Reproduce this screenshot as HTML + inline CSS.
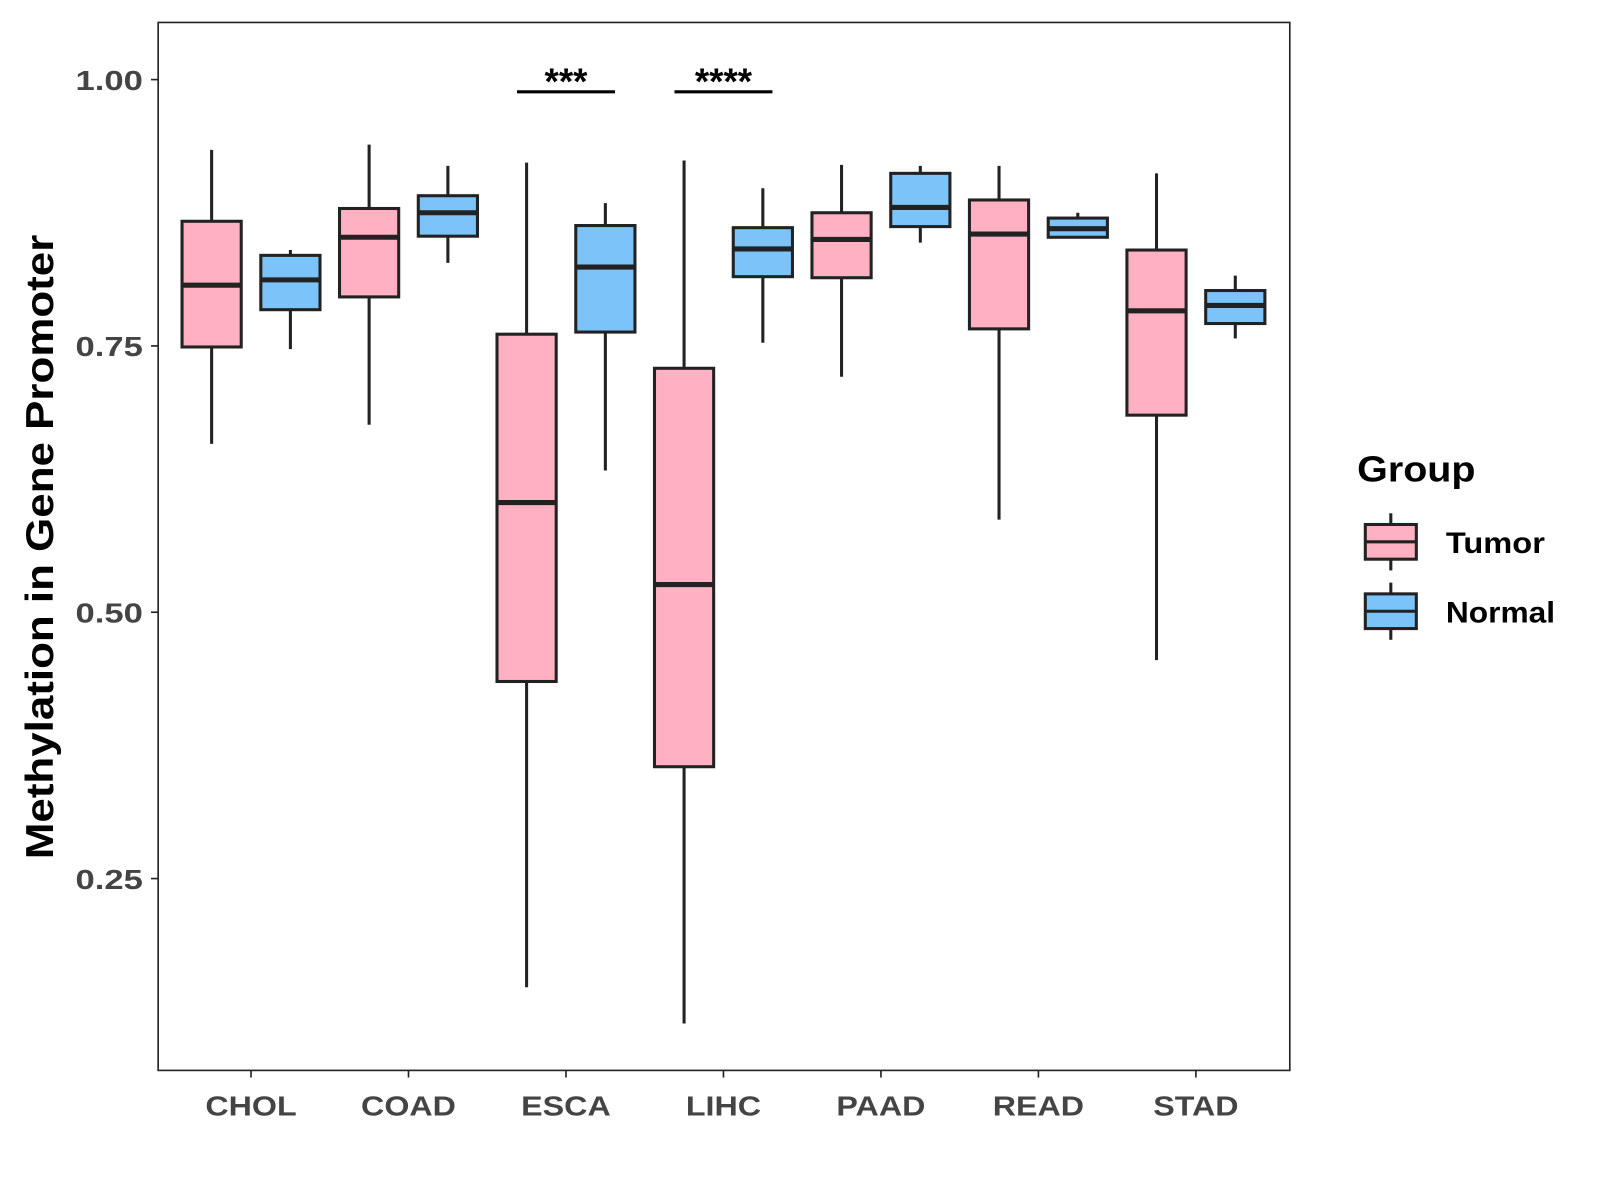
<!DOCTYPE html>
<html><head><meta charset="utf-8"><style>
html,body{margin:0;padding:0;background:#fff}
svg{display:block}
text{font-family:"Liberation Sans",Arial,sans-serif;font-weight:bold}
</style></head><body>
<svg id="chart" width="1600" height="1200" viewBox="0 0 1568 1176" xmlns="http://www.w3.org/2000/svg">
<rect width="1568" height="1176" fill="#fff"/>
<g id="plot"></g>
<rect x="155" y="22" width="1109" height="1027" fill="none" stroke="#222" stroke-width="1.6"/>
<text transform="translate(52,536) rotate(-90)" text-anchor="middle" font-size="38" fill="#000" textLength="612" lengthAdjust="spacingAndGlyphs">Methylation in Gene Promoter</text>
<g>
<text x="1330" y="472" font-size="35" fill="#000" textLength="116" lengthAdjust="spacingAndGlyphs">Group</text>
<g>
<line x1="1363" y1="503" x2="1363" y2="559" stroke="#222" stroke-width="3"/>
<rect x="1338" y="514" width="50" height="34" fill="#FFB0C2" stroke="#222" stroke-width="3"/>
<line x1="1338" y1="531" x2="1388" y2="531" stroke="#222" stroke-width="3"/>
<text x="1417" y="542" font-size="29" fill="#000" textLength="97" lengthAdjust="spacingAndGlyphs">Tumor</text>
</g>
<g>
<line x1="1363" y1="571" x2="1363" y2="627" stroke="#222" stroke-width="3"/>
<rect x="1338" y="582" width="50" height="34" fill="#7BC3F8" stroke="#222" stroke-width="3"/>
<line x1="1338" y1="599" x2="1388" y2="599" stroke="#222" stroke-width="3"/>
<text x="1417" y="610" font-size="29" fill="#000" textLength="107" lengthAdjust="spacingAndGlyphs">Normal</text>
</g>
</g>
</svg>
<script>
const categories=["CHOL","COAD","ESCA","LIHC","PAAD","READ","STAD"];
// [max, q3, median, q1, min]
const tumorStats=[[0.934,0.867,0.807,0.749,0.658],[0.939,0.879,0.852,0.796,0.676],[0.922,0.761,0.603,0.435,0.148],[0.924,0.729,0.526,0.355,0.114],[0.920,0.875,0.850,0.814,0.721],[0.919,0.887,0.855,0.766,0.587],[0.912,0.840,0.783,0.685,0.455]];
const normalStats=[[0.840,0.835,0.812,0.784,0.747],[0.919,0.891,0.875,0.853,0.828],[0.884,0.863,0.824,0.763,0.633],[0.898,0.861,0.841,0.815,0.753],[0.919,0.912,0.880,0.862,0.847],[0.875,0.870,0.860,0.852,0.851],[0.816,0.802,0.788,0.771,0.757]];
const yTicks=[0.25,0.50,0.75,1.00];
const yTickLabels=["0.25","0.50","0.75","1.00"];
const sigCategories=["ESCA","LIHC"];
const sigLabels=["***","****"];
const sigLevel=0.9885;

const NS="http://www.w3.org/2000/svg";
const g=document.getElementById('plot');
function y(v){return 78+(1-v)*1044;}
function x(i){return 246+i*154.33;}
function el(tag,attrs,parent){const e=document.createElementNS(NS,tag);for(const k in attrs)e.setAttribute(k,attrs[k]);(parent||g).appendChild(e);return e;}
yTicks.forEach((v,i)=>{
  const t=el('line',{x1:148,x2:155,y1:y(v),y2:y(v),stroke:'#222','stroke-width':1.6});
  
  
  const l=el('text',{x:140,y:y(v)+10,'text-anchor':'end','font-size':27,fill:'#444',textLength:66,lengthAdjust:'spacingAndGlyphs'});
  l.textContent=yTickLabels[i];
  
  
});
categories.forEach((c,i)=>{
  const t=el('line',{x1:x(i),x2:x(i),y1:1049,y2:1056,stroke:'#222','stroke-width':1.6});
  
  
  const l=el('text',{x:x(i),y:1093,'text-anchor':'middle','font-size':27,fill:'#444'});
  l.textContent=c;
  const w=l.getComputedTextLength();
  l.setAttribute('textLength',(w*1.17).toFixed(1));
  l.setAttribute('lengthAdjust','spacingAndGlyphs');
  
  
});
function box(cx,s,fill,name){
  const grp=el('g',{});
  
  
  el('line',{x1:cx,x2:cx,y1:y(s[0]),y2:y(s[4]),stroke:'#222','stroke-width':3},grp);
  el('rect',{x:cx-29,y:y(s[1]),width:58,height:y(s[3])-y(s[1]),fill:fill,stroke:'#222','stroke-width':3},grp);
  el('line',{x1:cx-29,x2:cx+29,y1:y(s[2]),y2:y(s[2]),stroke:'#222','stroke-width':5},grp);
}
categories.forEach((c,i)=>{
  box(x(i)-38.6,tumorStats[i],'#FFB0C2','box-tumor-'+c.toLowerCase());
  box(x(i)+38.6,normalStats[i],'#7BC3F8','box-normal-'+c.toLowerCase());
});
sigCategories.forEach((c,k)=>{
  const i=categories.indexOf(c);
  const ln=el('line',{x1:x(i)-48,x2:x(i)+48,y1:y(sigLevel),y2:y(sigLevel),stroke:'#000','stroke-width':3});
  
  
  const t=el('text',{x:x(i),y:y(sigLevel)+2,'text-anchor':'middle','font-size':36,fill:'#000'});
  t.textContent=sigLabels[k];
  
  
});
</script>
</body></html>
